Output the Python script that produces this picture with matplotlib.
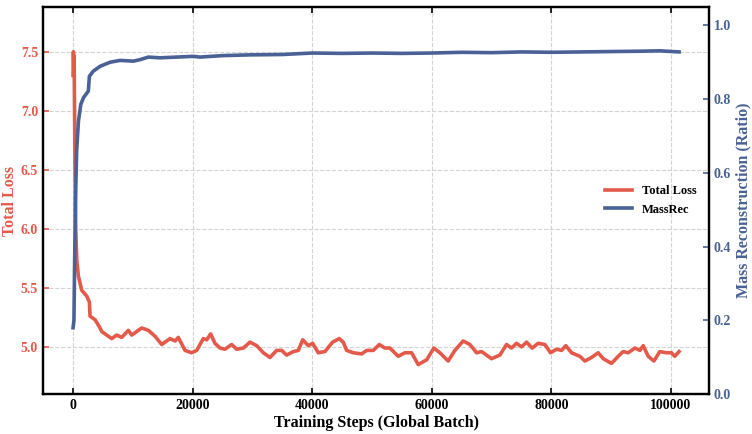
import matplotlib
matplotlib.use('Agg')
import matplotlib.pyplot as plt

plt.rcParams['font.family'] = ['Liberation Serif', 'DejaVu Serif']
plt.rcParams['font.weight'] = 'bold'

# Colours
red = '#E35A4A'
blue = '#4A6195'

# Total loss curve
loss_steps = [0, 60, 120, 180, 220, 330, 450, 620, 890, 1450, 2290, 2730, 2840, 3680,
              4400, 4800, 5900, 6470, 7300, 8140, 9250, 9810, 11480, 12600, 13710, 14830,
              16220, 17050, 17610, 18730, 19840, 20680, 21790, 22350, 23020, 23740, 24580,
              25410, 26530, 27370, 28480, 29600, 30720, 31830, 32940, 34060, 34900, 35730,
              36840, 37680, 38410, 39350, 40080, 41020, 42130, 43420, 44530, 45200, 45760,
              46870, 48270, 49110, 50220, 51220, 52170, 53000, 54390, 55510, 56630, 57740,
              59140, 60360, 61360, 62750, 63870, 65260, 66380, 67500, 68330, 70000, 71390,
              72510, 73350, 74180, 75020, 75860, 76800, 77800, 78920, 79870, 80870, 81710,
              82430, 83380, 84770, 85610, 86730, 87840, 88680, 90070, 91190, 92020, 92860,
              93980, 94820, 95370, 96210, 97160, 98140, 99260, 100100, 100650, 101370]
loss_values = [7.30, 7.50, 7.38, 7.46, 7.20, 6.50, 6.00, 5.74, 5.60, 5.48, 5.43, 5.38, 5.26, 5.23,
               5.17, 5.13, 5.09, 5.07, 5.10, 5.08, 5.14, 5.10, 5.16, 5.14, 5.09, 5.02,
               5.07, 5.05, 5.08, 4.97, 4.95, 4.97, 5.07, 5.06, 5.11, 5.03, 4.99,
               4.98, 5.02, 4.98, 4.99, 5.04, 5.01, 4.95, 4.91, 4.97, 4.97, 4.93,
               4.96, 4.97, 5.06, 5.01, 5.03, 4.95, 4.96, 5.04, 5.07, 5.04, 4.97,
               4.95, 4.94, 4.97, 4.97, 5.02, 4.99, 4.99, 4.92, 4.95, 4.95, 4.85,
               4.89, 4.99, 4.95, 4.88, 4.97, 5.05, 5.02, 4.95, 4.96, 4.90, 4.93,
               5.02, 4.99, 5.03, 5.00, 5.04, 4.99, 5.03, 5.02, 4.95, 4.98, 4.97,
               5.01, 4.95, 4.92, 4.88, 4.91, 4.95, 4.90, 4.86, 4.92, 4.96, 4.95,
               4.99, 4.97, 5.01, 4.92, 4.88, 4.96, 4.95, 4.95, 4.92, 4.96]

# Mass reconstruction ratio curve
mass_steps = [0, 150, 250, 400, 600, 900, 1300, 1750, 2560, 2730, 3400, 4520, 6190, 7860,
              10090, 11200, 12590, 14550, 17340, 20120, 21230, 25000, 29600, 35000, 40000,
              45000, 50000, 55000, 60000, 65000, 70000, 75000, 80000, 85000, 90000, 95000,
              98140, 101370]
mass_values = [0.18, 0.20, 0.34, 0.52, 0.66, 0.74, 0.786, 0.804, 0.822, 0.862, 0.876, 0.889,
               0.900, 0.905, 0.903, 0.907, 0.914, 0.912, 0.914, 0.916, 0.914, 0.918, 0.920,
               0.921, 0.925, 0.924, 0.925, 0.924, 0.925, 0.927, 0.926, 0.928, 0.927, 0.928,
               0.929, 0.930, 0.931, 0.928]

x_ticks = [0, 20000, 40000, 60000, 80000, 100000]
loss_ticks = [5.0, 5.5, 6.0, 6.5, 7.0, 7.5]
mass_ticks = [0.0, 0.2, 0.4, 0.6, 0.8, 1.0]

fig, ax = plt.subplots(figsize=(7.52, 4.34), dpi=100)
fig.subplots_adjust(left=0.057, right=0.943, top=0.984, bottom=0.092)
ax2 = ax.twinx()

l1, = ax.plot(loss_steps, loss_values, color=red, linewidth=2.6, label='Total Loss')
l2, = ax2.plot(mass_steps, mass_values, color=blue, linewidth=2.6, label='MassRec')

ax.set_xlim(-5050, 106400)
ax.set_ylim(4.6, 7.88)
ax2.set_ylim(0, 1.05)
ax.set_xticks(x_ticks)
ax.set_yticks(loss_ticks)
ax2.set_yticks(mass_ticks)

ax.grid(True, linestyle='--', color='#d3d3d3', linewidth=0.8)
ax.set_axisbelow(True)

ax.tick_params(axis='x', direction='in', top=True, labelsize=10, length=4, width=1.2)
ax.tick_params(axis='y', direction='in', right=False, labelsize=10, colors=red, length=4, width=1.2)
ax2.tick_params(axis='y', direction='in', labelsize=10, colors=blue, length=4, width=1.2)
for lab in ax.get_xticklabels() + ax.get_yticklabels() + ax2.get_yticklabels():
    lab.set_fontweight('bold')

for sp in ax.spines.values():
    sp.set_linewidth(1.6)
for sp in ax2.spines.values():
    sp.set_linewidth(1.6)

ax.set_xlabel('Training Steps (Global Batch)', fontsize=11.5, fontweight='bold', labelpad=2)
ax.set_ylabel('Total Loss', fontsize=11.5, fontweight='bold', color=red, labelpad=2)
ax2.set_ylabel('Mass Reconstruction (Ratio)', fontsize=11.5, fontweight='bold', color=blue, labelpad=3)

ax2.legend([l1, l2], ['Total Loss', 'MassRec'], loc='center right', frameon=False,
           prop={'size': 9, 'weight': 'bold'}, handlelength=2.2, borderaxespad=0.6)

fig.savefig('out.png', dpi=100)
